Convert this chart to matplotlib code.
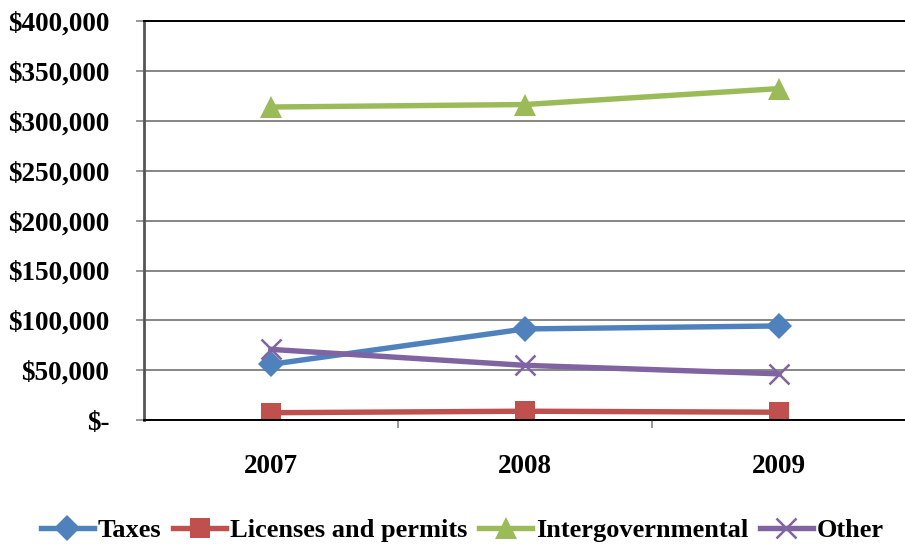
import matplotlib.pyplot as plt
from matplotlib.ticker import FuncFormatter

years = ["2007", "2008", "2009"]
taxes = [56000, 91500, 94500]
licenses = [7500, 9000, 8000]
intergov = [314000, 316500, 332500]
other = [71000, 55000, 46500]

series = [
    ("Taxes", taxes, "#4f81bd", "D", 13),
    ("Licenses and permits", licenses, "#c0504d", "s", 15),
    ("Intergovernmental", intergov, "#9bbb59", "^", 16),
    ("Other", other, "#8064a2", "x", 14),
]

plt.rcParams['font.family'] = ['Liberation Serif', 'DejaVu Serif']
plt.rcParams['font.weight'] = 'bold'

fig = plt.figure(figsize=(9.05, 5.45), dpi=100)
ax = fig.add_axes([0.159, 0.229, 0.842, 0.732])

x = range(len(years))
for name, vals, col, mk, ms in series:
    ax.plot(x, vals, color=col, lw=3.9, marker=mk, markersize=ms,
            markeredgewidth=1.8 if mk == "x" else 0, markeredgecolor=col,
            label=name)

ax.set_xlim(-0.5, 2.5)
ax.set_ylim(0, 400000)
ax.set_yticks(range(0, 400001, 50000))


def money(v, pos):
    if v == 0:
        return "$-"
    return "${:,.0f}".format(v)


ax.yaxis.set_major_formatter(FuncFormatter(money))
ax.set_xticks([0.5, 1.5])
ax.set_xticklabels([])
ax.set_xticks(list(x), minor=True)
ax.set_xticklabels(years, minor=True)
ax.tick_params(axis='x', which='minor', length=0, pad=24, labelsize=19.5)
ax.tick_params(axis='x', which='major', length=6, width=1.2, color="#868686",
               direction='out')
ax.tick_params(axis='y', length=6, width=1.2, color="#868686", labelsize=19.5, pad=19)
for lab in ax.get_yticklabels() + ax.get_xticklabels(minor=True):
    lab.set_fontweight('bold')

ax.grid(axis='y', color="#868686", lw=1.4)
ax.set_axisbelow(True)
for s in ["top", "bottom", "right"]:
    ax.spines[s].set_color("black")
    ax.spines[s].set_linewidth(1.4)
ax.spines["left"].set_color("#555555")
ax.spines["left"].set_linewidth(2)

fig.legend(loc="center", bbox_to_anchor=(0.511, 0.027), ncol=4, frameon=False,
           prop={'size': 19, 'weight': 'bold'}, handlelength=2.0,
           handletextpad=0.15, columnspacing=0.45, borderaxespad=0)

fig.savefig("out.png", dpi=100)
